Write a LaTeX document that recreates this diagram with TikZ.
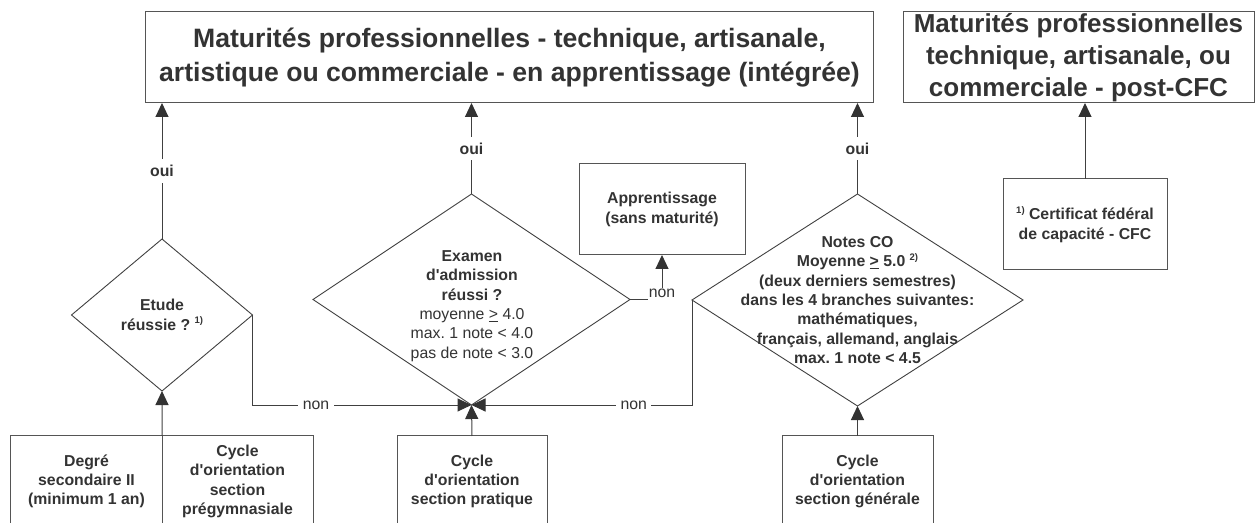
\documentclass[tikz,border=0pt]{standalone}
\usepackage{fontspec}
\setmainfont{Liberation Sans}
\usetikzlibrary{shapes.geometric,arrows.meta}
\definecolor{txt}{HTML}{333333}
\definecolor{ln}{HTML}{404040}
\definecolor{bx}{HTML}{555555}
\newcommand\fb{\fontsize{15.8bp}{19.3bp}\selectfont\bfseries}
\newcommand\fr{\fontsize{15.8bp}{19.3bp}\selectfont\mdseries}
\newcommand\mysup[1]{\raisebox{0.42em}{\fontsize{9.5bp}{10bp}\selectfont\bfseries #1}}
\newcommand\aq{\textquotesingle}
\frenchspacing
\begin{document}
\begin{tikzpicture}[x=1bp,y=-1bp,
  every node/.style={text=txt,execute at begin node=\frenchspacing},
  box/.style={draw=bx,line width=1bp,inner sep=0pt,outer sep=0pt,minimum height=91bp,align=center,font=\fb},
  dia/.style={diamond,draw=ln,line width=0.9bp,inner sep=0pt,outer sep=0pt},
  dtext/.style={align=center,font=\fb,inner sep=0pt},
  conn/.style={draw=ln,line width=1bp,-{Triangle[width=13bp,length=14bp,color=txt]}},
  plain/.style={draw=ln,line width=1bp},
  lbl/.style={fill=white,font=\fb,inner xsep=4.5bp,inner ysep=6bp},
  ]
\useasboundingbox (0,0) rectangle (1257,523);
\clip (0,0) rectangle (1257,523);

\node[box,minimum width=727bp,font=\fontsize{26.6bp}{34bp}\selectfont\bfseries] (title) at (509.5,57.5)
  {Maturités professionnelles - technique, artisanale,\\artistique ou commerciale - en apprentissage (intégrée)};
\node[box,minimum width=351bp,font=\fontsize{26bp}{32bp}\selectfont\bfseries] (ptitle) at (1078.5,57.5)
  {Maturités professionnelles\\technique, artisanale, ou\\commerciale - post-CFC};
\node[box,minimum width=164bp] (cfc) at (1085,224.5) {\mysup{1)} Certificat fédéral\\de capacité - CFC};
\node[box,minimum width=166bp] (appr) at (662,209.5) {Apprentissage\\(sans maturité)};

\node[dia,minimum width=181bp,minimum height=152bp] (etude) at (162,315) {};
\node[dtext] (etudeT) at (etude.center) {Etude\\réussie ? \mysup{1)}};

\node[dia,minimum width=317bp,minimum height=211bp] (exam) at (471.5,299.5) {};
\node[dtext] (examT) at (472,306) {Examen\\d\aq admission\\réussi ?\\\fr moyenne \underline{>} 4.0\\\fr max. 1 note < 4.0\\\fr pas de note < 3.0};

\node[dia,minimum width=331bp,minimum height=212bp] (notes) at (857.5,300) {};
\node[dtext] (notesT) at (857.5,300) {Notes CO\\Moyenne \underline{>} 5.0 \mysup{2)}\\(deux derniers semestres)\\dans les 4 branches suivantes:\\mathématiques,\\français, allemand, anglais\\max. 1 note < 4.5};

\node[box,minimum width=151bp] (degre) at (86.5,481.5) {Degré\\secondaire II\\(minimum 1 an)};
\node[box,minimum width=151bp] (prg) at (237.5,481.5) {Cycle\\d\aq orientation\\section\\prégymnasiale};
\node[box,minimum width=150bp] (prat) at (472,481.5) {Cycle\\d\aq orientation\\section pratique};
\node[box,minimum width=151bp] (gen) at (857.5,481.5) {Cycle\\d\aq orientation\\section générale};

\draw[conn] (etude.north) -- node[lbl] (oui1) {oui} (etude.north |- title.south);
\draw[conn] (exam.north) -- node[lbl] (oui2) {oui} (exam.north |- title.south);
\draw[conn] (notes.north) -- node[lbl] (oui3) {oui} (notes.north |- title.south);
\draw[conn] (cfc.north) -- (cfc.north |- ptitle.south);
\draw[conn] (degre.north east) -- (etude.south);
\draw[conn] (prat.north) -- (exam.south);
\draw[conn] (gen.north) -- (notes.south);
\draw[conn] (etude.east) -- (etude.east |- exam.south) -- node[lbl,font=\fr,pos=0.29] (non1) {non} (exam.south);
\draw[conn] (notes.west) -- (notes.west |- exam.south) -- node[lbl,font=\fr,pos=0.264] (non2) {non} (exam.south);
\node[font=\fr,inner sep=1bp,anchor=base] (nonA) at (662,298) {non};
\draw[plain] (exam.east) -- (exam.east -| nonA.west);
\draw[conn] (nonA.north) -- (appr.south);
\end{tikzpicture}
\end{document}
